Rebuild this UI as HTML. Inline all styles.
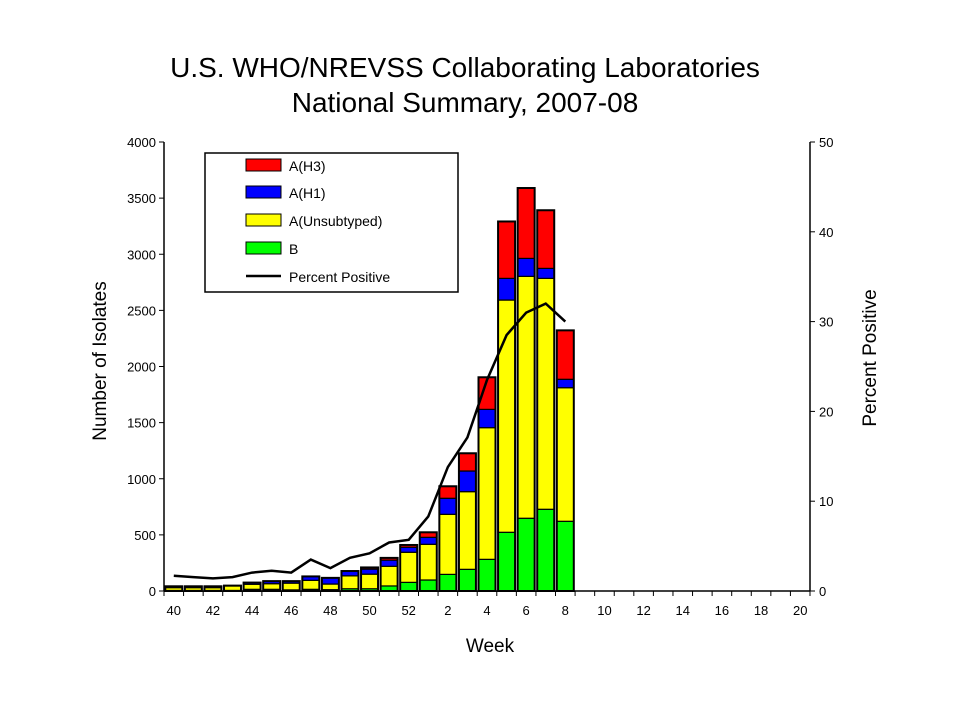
<!DOCTYPE html>
<html><head><meta charset="utf-8">
<style>
html,body{margin:0;padding:0;background:#fff;}
svg{display:block;font-family:"Liberation Sans",Arial,sans-serif;}
</style></head>
<body>
<svg id="chart" width="960" height="720" viewBox="0 0 960 720">
<text x="465" y="77" font-size="28" text-anchor="middle">U.S. WHO/NREVSS Collaborating Laboratories</text>
<text x="465" y="112" font-size="28" text-anchor="middle">National Summary, 2007-08</text>
<text transform="translate(106,361) rotate(-90)" font-size="19" text-anchor="middle">Number of Isolates</text>
<text transform="translate(876,358) rotate(-90)" font-size="19" text-anchor="middle">Percent Positive</text>
<text x="490" y="652" font-size="19" text-anchor="middle">Week</text>
<g id="bars"></g>
<g id="axes"></g>
<g>
<rect x="205" y="153" width="253" height="139" fill="#fff" stroke="#000" stroke-width="1.5"/>
<g><rect x="246" y="159" width="35" height="12" fill="#ff0000" stroke="#000"/><text x="289" y="171" font-size="14">A(H3)</text></g>
<g><rect x="246" y="186" width="35" height="12" fill="#0000ff" stroke="#000"/><text x="289" y="198" font-size="14">A(H1)</text></g>
<g><rect x="246" y="214" width="35" height="12" fill="#ffff00" stroke="#000"/><text x="289" y="226" font-size="14">A(Unsubtyped)</text></g>
<g><rect x="246" y="242" width="35" height="12" fill="#00ff00" stroke="#000"/><text x="289" y="254" font-size="14">B</text></g>
<g><line x1="246" y1="276" x2="281" y2="276" stroke="#000" stroke-width="2.5"/><text x="289" y="282" font-size="14">Percent Positive</text></g>
</g>
</svg>
<script>
const weeks = [40,41,42,43,44,45,46,47,48,49,50,51,52,1,2,3,4,5,6,7,8,9,10,11,12,13,14,15,16,17,18,19,20];
const seriesB = [5,5,5,5,15,15,10,15,12,20,20,45,77,98,148,193,282,523,648,728,621];
const seriesUnsub = [25,25,25,40,45,50,60,80,50,115,130,175,268,318,535,692,1173,2069,2155,2057,1190];
const seriesH1 = [12,12,12,3,12,20,15,35,55,43,45,55,45,62,143,184,163,193,160,89,75];
const seriesH3 = [0,0,0,0,3,3,3,0,0,0,15,20,20,45,107,158,286,507,627,518,436];
const percentPositive = [1.7,1.55,1.4,1.55,2.05,2.25,2.05,3.5,2.55,3.7,4.2,5.4,5.7,8.3,13.8,17.1,23.5,28.5,31,32,30];
const leftTicks = [0,500,1000,1500,2000,2500,3000,3500,4000];
const rightTicks = [0,10,20,30,40,50];

const NS='http://www.w3.org/2000/svg';
const X0=164, X1=810, Y0=591, Y1=142;
const step=(X1-X0)/weeks.length;
const xC=i=>X0+step*(i+0.5);
const yL=v=>Y0-(v/4000)*(Y0-Y1);
const yR=v=>Y0-(v/50)*(Y0-Y1);
function mk(tag,attrs,parent){const e=document.createElementNS(NS,tag);for(const k in attrs)e.setAttribute(k,attrs[k]);parent.appendChild(e);return e;}
const bars=document.getElementById('bars'), axes=document.getElementById('axes');
const bw=17;
const stacks=[[seriesB,'#00ff00','b'],[seriesUnsub,'#ffff00','unsubtyped'],[seriesH1,'#0000ff','h1'],[seriesH3,'#ff0000','h3']];
for(let i=0;i<seriesB.length;i++){
  let base=0;
  for(const [arr,col,nm] of stacks){
    const v=arr[i]; if(v<=0)continue;
    const r=mk('rect',{x:xC(i)-bw/2,y:yL(base+v),width:bw,height:yL(base)-yL(base+v),fill:col,stroke:'#000','stroke-width':1.2},bars);
    
    
    base+=v;
  }
  const o=mk('rect',{x:xC(i)-bw/2,y:yL(base),width:bw,height:Y0-yL(base),fill:'none',stroke:'#000','stroke-width':2},bars);
  
  
}
const pts=percentPositive.map((v,i)=>xC(i)+','+yR(v)).join(' ');
const pl=mk('polyline',{points:pts,fill:'none',stroke:'#000','stroke-width':2.5},bars);


// axes
mk('line',{x1:X0,y1:Y1,x2:X0,y2:Y0,stroke:'#000','stroke-width':1.5},axes);
mk('line',{x1:X1,y1:Y1,x2:X1,y2:Y0,stroke:'#000','stroke-width':1.5},axes);
mk('line',{x1:X0,y1:Y0,x2:X1,y2:Y0,stroke:'#000','stroke-width':1.5},axes);
for(const t of leftTicks){
  mk('line',{x1:X0-5,y1:yL(t),x2:X0,y2:yL(t),stroke:'#000'},axes);
  const tx=mk('text',{x:X0-8,y:yL(t)+5,'font-size':13,'text-anchor':'end'},axes);
  tx.textContent=t;
  
  
}
for(const t of rightTicks){
  mk('line',{x1:X1,y1:yR(t),x2:X1+5,y2:yR(t),stroke:'#000'},axes);
  const tx=mk('text',{x:X1+9,y:yR(t)+5,'font-size':13},axes);
  tx.textContent=t;
  
  
}
for(let i=0;i<=weeks.length;i++){
  const x=X0+step*i;
  mk('line',{x1:x,y1:Y0,x2:x,y2:Y0+5,stroke:'#000'},axes);
}
weeks.forEach((w,i)=>{
  if(w%2!==0)return;
  const tx=mk('text',{x:xC(i),y:Y0+24,'font-size':13,'text-anchor':'middle'},axes);
  tx.textContent=w;
  
  
});
</script>
</body></html>
